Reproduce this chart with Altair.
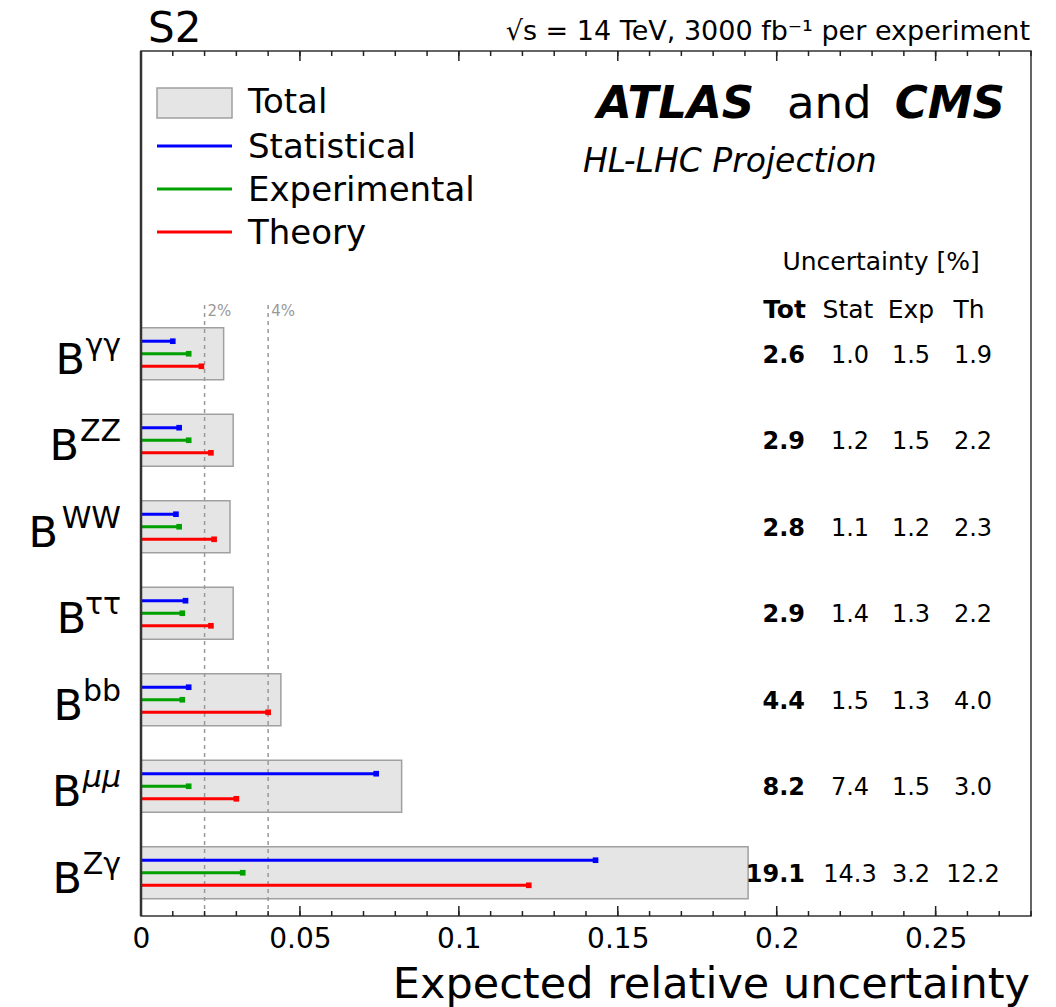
import altair as alt
import pandas as pd

# ---------------- data ----------------
channels = ["γγ", "ZZ", "WW", "ττ", "bb", "μμ", "Zγ"]
total = [2.6, 2.9, 2.8, 2.9, 4.4, 8.2, 19.1]
stat = [1.0, 1.2, 1.1, 1.4, 1.5, 7.4, 14.3]
expt = [1.5, 1.5, 1.2, 1.3, 1.3, 1.5, 3.2]
theory = [1.9, 2.2, 2.3, 2.2, 4.0, 3.0, 12.2]
components = ["Statistical", "Experimental", "Theory"]
comp_colors = ["#0000ff", "#00a000", "#ff0000"]
x_ticks = [0, 0.05, 0.1, 0.15, 0.2, 0.25]
ref_lines = [0.02, 0.04]
ref_labels = ["2%", "4%"]

# ---------------- layout / style ----------------
W, H = 890, 865
XMAX = 0.28
PX = XMAX / W  # data units per pixel
FONT = "DejaVu Sans"

# approximate glyph advance widths (em) for right-aligning superscripts
GLYPH_W = {"γ": 0.60, "Z": 0.70, "W": 1.05, "τ": 0.58, "b": 0.635, "μ": 0.66}
SUP_SIZE = 30
LABEL_RIGHT = -20  # px from plot left

rows = list(range(len(channels)))
bars = pd.DataFrame({
    "row": rows,
    "ch": channels,
    "tot": [v / 100 for v in total],
    "tot_txt": [f"{v:.1f}" for v in total],
    "stat_txt": [f"{v:.1f}" for v in stat],
    "exp_txt": [f"{v:.1f}" for v in expt],
    "th_txt": [f"{v:.1f}" for v in theory],
})
bars["zero"] = 0.0
sup_w = [sum(GLYPH_W[c] for c in ch) * SUP_SIZE for ch in channels]
bars["sup_x"] = LABEL_RIGHT * PX
bars["b_x"] = [(LABEL_RIGHT - w) * PX for w in sup_w]
bars["italic"] = [ch == "μμ" for ch in channels]

offsets = {"Statistical": -0.145, "Experimental": 0.0, "Theory": 0.145}
recs = []
for i, vals in enumerate(zip(stat, expt, theory)):
    for name, v in zip(components, vals):
        recs.append({"row": i, "comp": name, "value": v / 100,
                     "ypos": i + offsets[name], "zero": 0.0})
lines = pd.DataFrame(recs)

refs = pd.DataFrame({"x": ref_lines, "label": ref_labels})
minor = pd.DataFrame({"t": [round(0.01 * k, 2) for k in range(29)]})
major = pd.DataFrame({"t": x_ticks})
one = pd.DataFrame({"a": [0]})

xaxis = alt.Axis(values=x_ticks, format="~g", labelFontSize=28, labelFont=FONT,
                 labelColor="black", ticks=False, domain=False, grid=False,
                 labelPadding=9, labelFlush=False, title=None)
xscale = alt.Scale(domain=[0, XMAX], nice=False, zero=False)
yscale = alt.Scale(domain=[-3.5, 6.5], reverse=True, nice=False, zero=False)


def X(f):
    return alt.X(f, type="quantitative", scale=xscale, axis=xaxis)


def Y(f):
    return alt.Y(f, type="quantitative", scale=yscale, axis=None)


color = alt.Color("comp:N", scale=alt.Scale(domain=components, range=comp_colors), legend=None)

box = alt.Chart(bars).transform_calculate(
    y0="datum.row - 0.3", y1="datum.row + 0.3"
).mark_rect(fill="#e5e5e5", stroke="#a0a0a0", strokeWidth=1.5).encode(
    x=X("zero"), x2="tot:Q", y=Y("y0"), y2="y1:Q")

dashed = alt.Chart(refs).mark_rule(strokeDash=[4, 4], color="#999999", strokeWidth=1.5).encode(
    x=X("x"), y=alt.value(254), y2=alt.value(H))
dashed_txt = alt.Chart(refs).mark_text(align="left", dx=3, fontSize=15, font=FONT,
                                       color="#999999", baseline="alphabetic").encode(
    x=X("x"), y=alt.value(265), text="label:N")

seg = alt.Chart(lines).mark_rule(strokeWidth=3).encode(
    x=X("zero"), x2="value:Q", y=Y("ypos"), color=color)
ends = alt.Chart(lines).mark_square(size=32, opacity=1).encode(
    x=X("value"), y=Y("ypos"), color=color)

# row labels B^{xx}
b_txt = alt.Chart(bars).mark_text(align="right", baseline="alphabetic", dy=20,
                                  fontSize=43, font=FONT, color="black").encode(
    x=X("b_x"), y=Y("row"), text=alt.value("B"))
sup_up = alt.Chart(bars).transform_filter("!datum.italic").mark_text(
    align="right", baseline="alphabetic", dy=1, fontSize=SUP_SIZE, font=FONT, color="black").encode(
    x=X("sup_x"), y=Y("row"), text="ch:N")
sup_it = alt.Chart(bars).transform_filter("datum.italic").mark_text(
    align="right", baseline="alphabetic", dy=1, fontSize=SUP_SIZE, font=FONT,
    fontStyle="italic", color="black").encode(
    x=X("sup_x"), y=Y("row"), text="ch:N")

# uncertainty table
def col_text(field, xpx, align, bold=False):
    return alt.Chart(bars).mark_text(align=align, baseline="alphabetic", dy=9, fontSize=24,
                                     font=FONT, fontWeight="bold" if bold else "normal",
                                     color="black").encode(
        x=alt.value(xpx), y=Y("row"), text=f"{field}:N")


tbl = [col_text("tot_txt", 664, "right", True), col_text("stat_txt", 709, "center"),
       col_text("exp_txt", 770, "center"), col_text("th_txt", 832, "center")]


def note(text, x, y, size, align="left", weight="normal", style="normal", color="black"):
    return alt.Chart(one).mark_text(text=text, align=align, baseline="alphabetic", fontSize=size,
                                    font=FONT, fontWeight=weight, fontStyle=style,
                                    color=color).encode(x=alt.value(x), y=alt.value(y))


notes = [
    note("S2", 7, -9, 42),
    note("√s = 14 TeV, 3000 fb⁻¹ per experiment", 889, -11, 27, align="right"),
    note("ATLAS", 456, 67, 45, weight="bold", style="italic"),
    note("and", 646, 67, 45),
    note("CMS", 864, 67, 45, align="right", weight="bold", style="italic"),
    note("HL-LHC Projection", 442, 121, 33, style="italic"),
    note("Uncertainty [%]", 740, 219, 25, align="center"),
    note("Tot", 665, 267, 25, align="right", weight="bold"),
    note("Stat", 707, 267, 25, align="center"),
    note("Exp", 770, 267, 25, align="center"),
    note("Th", 828, 267, 25, align="center"),
    note("Expected relative uncertainty", 889, 947, 43, align="right"),
    note("Total", 107, 62, 34),
    note("Statistical", 107, 107, 34),
    note("Experimental", 107, 150, 34),
    note("Theory", 107, 193, 34),
]

leg_box = alt.Chart(one).mark_rect(fill="#e5e5e5", stroke="#a0a0a0", strokeWidth=1.5).encode(
    x=alt.value(16), x2=alt.value(91), y=alt.value(37), y2=alt.value(67))
leg_lines = [alt.Chart(one).mark_rule(strokeWidth=3, color=c).encode(
    x=alt.value(16), x2=alt.value(91), y=alt.value(yy))
    for c, yy in zip(comp_colors, [95, 138, 181])]

# frame ticks
tick_bot_minor = alt.Chart(minor).mark_rule(color="#222222", strokeWidth=1.5).encode(
    x=X("t"), y=alt.value(H), y2=alt.value(H - 5))
tick_bot_major = alt.Chart(major).mark_rule(color="#222222", strokeWidth=1.5).encode(
    x=X("t"), y=alt.value(H), y2=alt.value(H - 10))
tick_top_minor = alt.Chart(minor).mark_rule(color="#222222", strokeWidth=1.5).encode(
    x=X("t"), y=alt.value(0), y2=alt.value(5))
tick_top_major = alt.Chart(major).mark_rule(color="#222222", strokeWidth=1.5).encode(
    x=X("t"), y=alt.value(0), y2=alt.value(10))
left_edge = alt.Chart(one).mark_rule(color="#333333", strokeWidth=2.5).encode(
    x=alt.value(0), y=alt.value(0), y2=alt.value(H))

chart = alt.layer(
    box, dashed, dashed_txt, seg, ends, b_txt, sup_up, sup_it, *tbl, *notes,
    leg_box, *leg_lines, tick_bot_minor, tick_bot_major, tick_top_minor, tick_top_major,
    left_edge
).properties(
    width=W, height=H,
    autosize=alt.AutoSizeParams(type="none"),
    padding={"left": 141, "top": 51, "right": 25, "bottom": 91},
    background="white",
).configure_view(stroke="#333333", strokeWidth=1.5)

chart.save("out.html", embed_options={"renderer": "svg", "actions": False})
